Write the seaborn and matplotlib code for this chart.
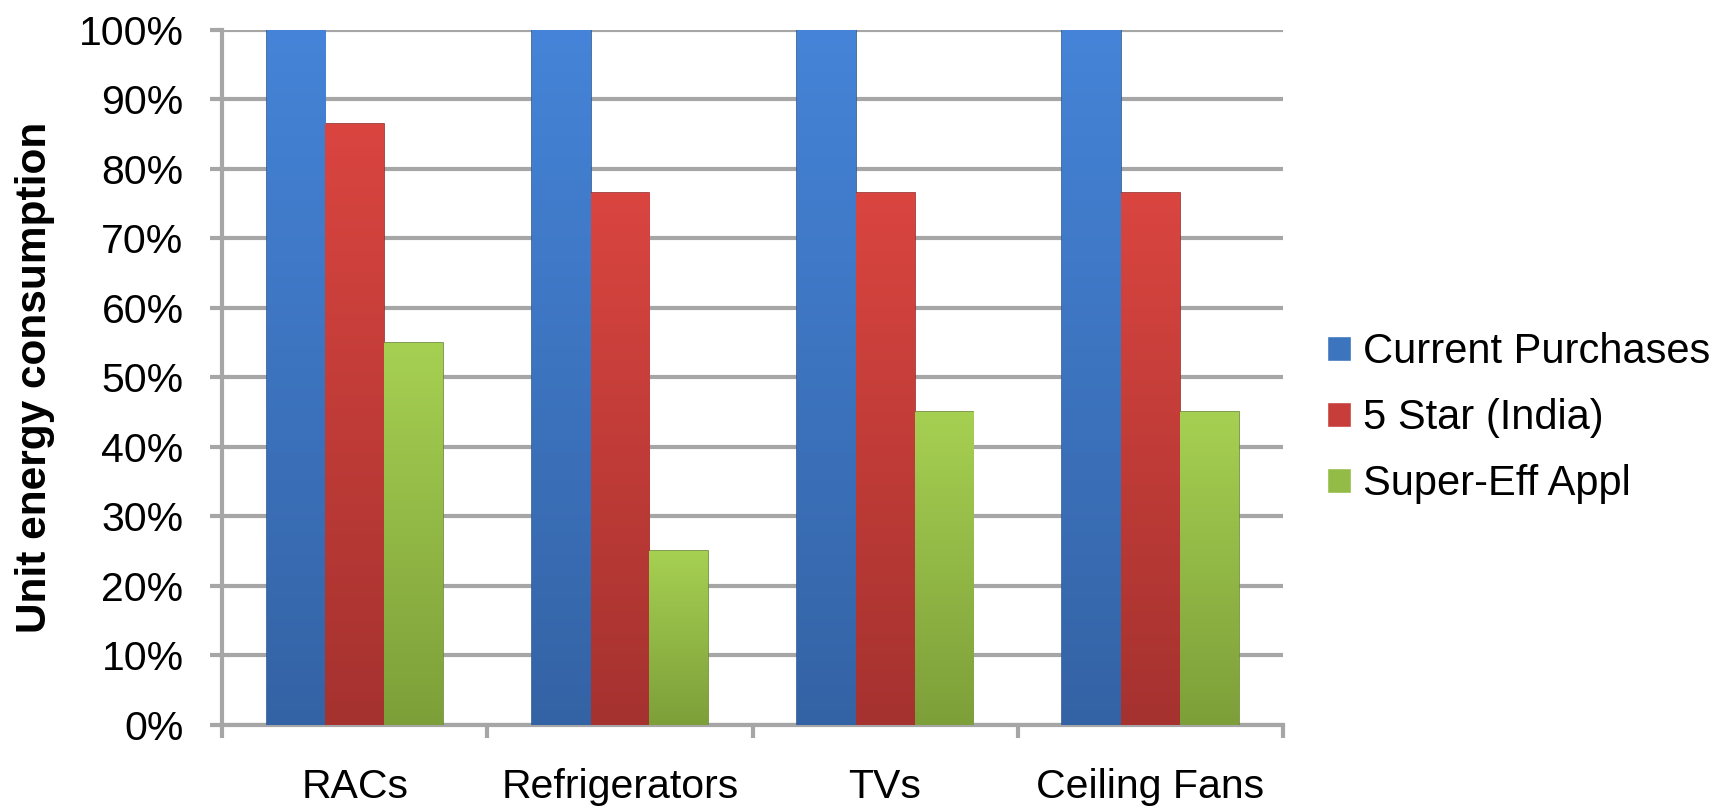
import numpy as np
import pandas as pd
import matplotlib
matplotlib.use('Agg')
import matplotlib.pyplot as plt
import seaborn as sns
from matplotlib.colors import LinearSegmentedColormap
from matplotlib.ticker import PercentFormatter, FixedLocator

# chart data
categories = ['RACs', 'Refrigerators', 'TVs', 'Ceiling Fans']
series = ['Current Purchases', '5 Star (India)', 'Super-Eff Appl']
current_purchases = [100, 100, 100, 100]
five_star = [86.5, 76.5, 76.5, 76.5]
super_eff = [55, 25, 45, 45]

colors = ['#3C74BE', '#C63D3A', '#93BC47']
top_colors = ['#4584D8', '#DA4540', '#A6D052']
bottom_colors = ['#3463A5', '#A5322F', '#7D9F39']
edge_colors = ['#2E5A94', '#982D2B', '#6B8A30']

df = pd.DataFrame({
    'category': categories * 3,
    'series': [s for s in series for _ in categories],
    'value': current_purchases + five_star + super_eff,
})

sns.set_style('white')
plt.rcParams['font.family'] = ['Liberation Sans', 'DejaVu Sans']
plt.rcParams['text.color'] = 'black'
plt.rcParams['xtick.color'] = 'black'
plt.rcParams['ytick.color'] = 'black'
plt.rcParams['axes.labelcolor'] = 'black'

fig = plt.figure(figsize=(17.24, 8.09), dpi=100)
ax = fig.add_axes([0.129, 0.104, 0.615, 0.859])

sns.barplot(data=df, x='category', y='value', hue='series', order=categories,
            hue_order=series, palette=colors, width=0.667, saturation=1,
            errorbar=None, ax=ax, zorder=3)

# vertical gradient on every bar, like the bevelled Excel bars
grad = np.linspace(1, 0, 256).reshape(-1, 1)
for container, top, bot, ec in zip(ax.containers, top_colors, bottom_colors, edge_colors):
    cmap = LinearSegmentedColormap.from_list('g', [bot, top])
    for bar in container:
        bar.set_edgecolor(ec)
        bar.set_linewidth(1.2)
        x0, y0 = bar.get_x(), bar.get_y()
        w, h = bar.get_width(), bar.get_height()
        im = ax.imshow(grad, cmap=cmap, aspect='auto', zorder=3.5,
                       extent=(x0, x0 + w, y0, y0 + h), interpolation='bicubic')
        im.set_clip_path(bar)

grid_col = '#A6A6A6'
ax.set_ylim(0, 100)
ax.set_xlim(-0.5, 3.5)
ax.set_yticks(np.arange(0, 101, 10))
ax.yaxis.set_major_formatter(PercentFormatter(decimals=0))
ax.yaxis.grid(True, color=grid_col, lw=3, zorder=0)
ax.set_axisbelow(True)

ax.tick_params(axis='y', which='major', length=9, width=3, color=grid_col,
               labelsize=29.5, pad=19, left=True, labelcolor='black')
ax.tick_params(axis='x', which='major', length=0, labelsize=29.5, pad=31,
               labelcolor='black')
ax.xaxis.set_minor_locator(FixedLocator([-0.5, 0.5, 1.5, 2.5, 3.5]))
ax.tick_params(axis='x', which='minor', length=9, width=3, color=grid_col,
               bottom=True)

for side in ['top', 'right']:
    ax.spines[side].set_visible(False)
for side in ['left', 'bottom']:
    ax.spines[side].set_color(grid_col)
    ax.spines[side].set_linewidth(3)

ax.set_xlabel('')
ax.set_ylabel('Unit energy consumption', fontsize=30.5, fontweight='bold',
              color='black')
ax.yaxis.set_label_coords(-0.158, 0.5)

handles, labels = ax.get_legend_handles_labels()
ax.legend_.remove()
fig.legend(handles, labels, loc='center left', bbox_to_anchor=(0.770, 0.483),
           frameon=False, fontsize=30, handlelength=0.56, handleheight=0.56,
           handletextpad=0.3, labelspacing=0.62, borderpad=0, borderaxespad=0)

fig.savefig('out.png', dpi=100)
